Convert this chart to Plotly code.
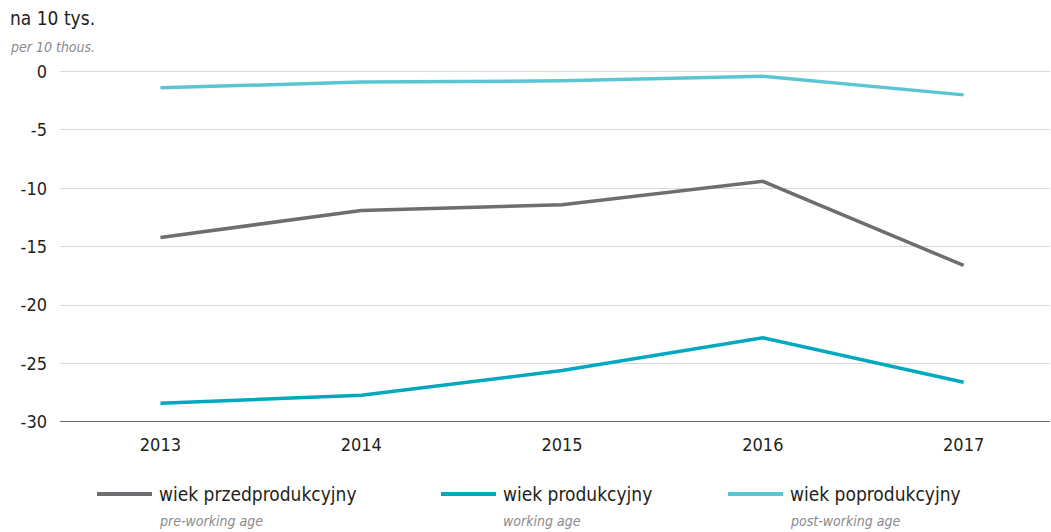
import plotly.graph_objects as go

years = [2013, 2014, 2015, 2016, 2017]
pre_working = [-14.2, -11.9, -11.4, -9.4, -16.6]
working = [-28.4, -27.7, -25.6, -22.8, -26.6]
post_working = [-1.4, -0.9, -0.8, -0.4, -2.0]

names_pl = ["wiek przedprodukcyjny", "wiek produkcyjny", "wiek poprodukcyjny"]
names_en = ["pre-working age", "working age", "post-working age"]
colors = ["#6d6e71", "#00a9bd", "#5bc6d3"]
y_ticks = [0, -5, -10, -15, -20, -25, -30]

FONT = "Liberation Sans Narrow, DejaVu Sans Condensed, Roboto, sans-serif"
TXT = "#231f20"
SUB = "#8a8a8d"

fig = go.Figure()
for vals, name, col in zip([pre_working, working, post_working], names_pl, colors):
    fig.add_trace(go.Scatter(
        x=years, y=vals, mode="lines", name=name,
        line=dict(color=col, width=3.5), showlegend=False,
        hoverinfo="x+y"
    ))

fig.update_layout(
    width=1051, height=532,
    margin=dict(l=60, r=1, t=61, b=110),
    paper_bgcolor="white", plot_bgcolor="white",
    font=dict(family=FONT, size=18, color=TXT),
    xaxis=dict(
        range=[2012.5, 2017.43], tickmode="array", tickvals=years,
        ticktext=[str(y) for y in years], showgrid=False, zeroline=False,
        ticks="", ticklabelstandoff=10, showline=False,
    ),
    yaxis=dict(
        range=[-30, 0.9], tickmode="array", tickvals=y_ticks,
        ticktext=[str(v) for v in y_ticks],
        showgrid=True, gridcolor="#d9d9d9", gridwidth=1, zeroline=False,
        ticks="", ticklabelstandoff=12,
    ),
)

# darker baseline at the bottom of the value axis
fig.add_shape(type="line", xref="paper", x0=0, x1=1, yref="y", y0=-30, y1=-30,
              line=dict(color="#3a3a3a", width=1.5), layer="above")

# axis unit title
fig.add_annotation(xref="paper", yref="paper", x=(8 - 60) / 990, y=(422 - 18) / 361,
                   xanchor="left", yanchor="middle", showarrow=False,
                   text="na 10 tys.", font=dict(size=19, color=TXT))
fig.add_annotation(xref="paper", yref="paper", x=(8 - 60) / 990, y=(422 - 47) / 361,
                   xanchor="left", yanchor="middle", showarrow=False,
                   text="<i>per 10 thous.</i>", font=dict(size=14, color=SUB))

# legend built from the series names and colours
line_x = [97, 441, 728]
for lx, pl, en, col in zip(line_x, names_pl, names_en, colors):
    x0 = (lx - 60) / 990
    x1 = (lx + 55 - 60) / 990
    ly = (422 - 494) / 361
    fig.add_shape(type="line", xref="paper", yref="paper", x0=x0, x1=x1, y0=ly, y1=ly,
                  line=dict(color=col, width=4))
    tx = (lx + 60 - 60) / 990
    fig.add_annotation(xref="paper", yref="paper", x=tx, y=ly, xanchor="left",
                       yanchor="middle", showarrow=False, text=pl,
                       font=dict(size=19, color=TXT))
    fig.add_annotation(xref="paper", yref="paper", x=tx, y=(422 - 521) / 361,
                       xanchor="left", yanchor="middle", showarrow=False,
                       text="<i>" + en + "</i>", font=dict(size=14, color=SUB))

fig.write_html("out.html")
